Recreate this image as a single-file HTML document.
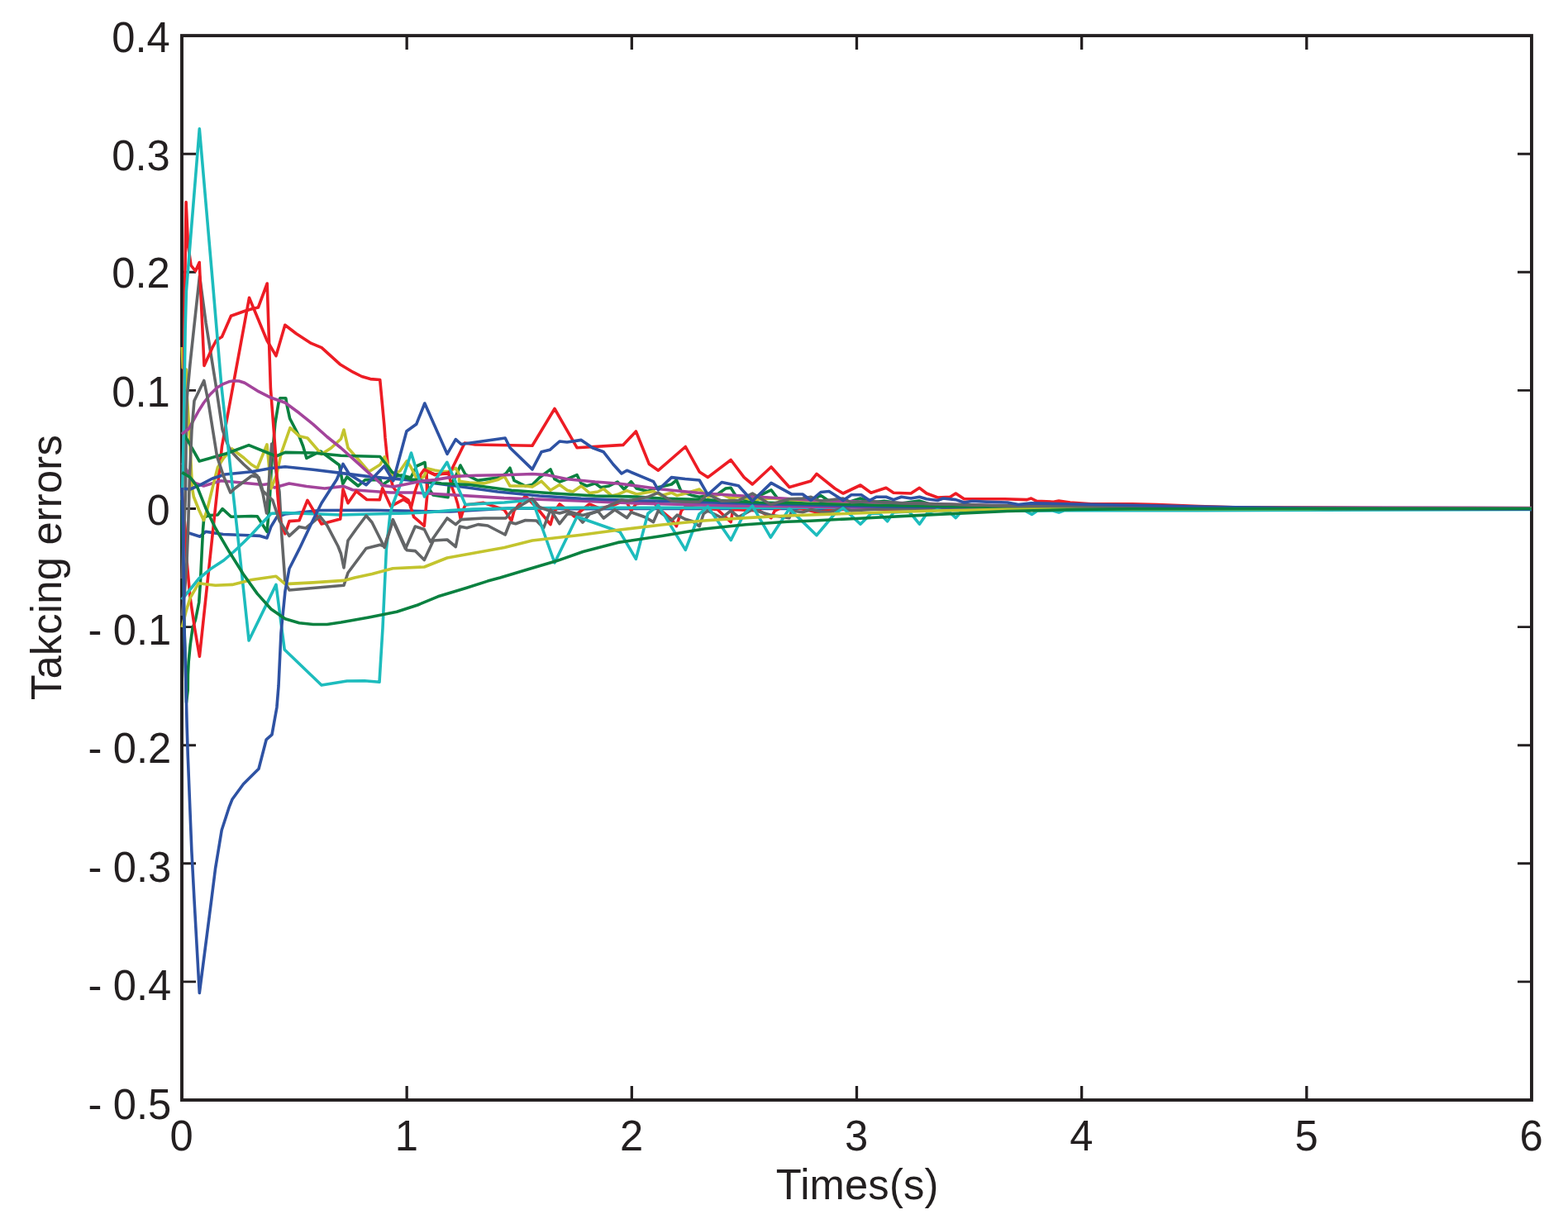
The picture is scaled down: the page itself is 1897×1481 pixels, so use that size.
<!DOCTYPE html>
<html lang="en">
<head>
<meta charset="utf-8">
<title>Tracking errors</title>
<style>
html,body{margin:0;padding:0;background:#fff;}
body{width:1897px;height:1481px;overflow:hidden;}
svg{display:block;}
text{font-family:"Liberation Sans",sans-serif;font-size:50.7px;fill:#231f20;}
.c{fill:none;stroke-width:3.6;stroke-linejoin:round;stroke-linecap:butt;}
.ax{fill:none;stroke:#231f20;stroke-width:3.9;stroke-linejoin:miter;}
.tk{fill:none;stroke:#231f20;stroke-width:2.9;}
</style>
</head>
<body>
<svg width="1897" height="1481" viewBox="0 0 1897 1481">
<rect x="0" y="0" width="1897" height="1481" fill="#ffffff"/>
<g id="axes">
<rect class="ax" x="220.00" y="43.10" width="1632.95" height="1287.90"/>
<path class="tk" style="stroke-width:3.3" d="M492.16 1331.00 V1314.00 M492.16 43.10 V60.10 M764.32 1331.00 V1314.00 M764.32 43.10 V60.10 M1036.47 1331.00 V1314.00 M1036.47 43.10 V60.10 M1308.63 1331.00 V1314.00 M1308.63 43.10 V60.10 M1580.79 1331.00 V1314.00 M1580.79 43.10 V60.10"/>
<path class="tk" d="M220.00 186.20 H237.00 M1852.95 186.20 H1835.95 M220.00 329.30 H237.00 M1852.95 329.30 H1835.95 M220.00 472.40 H237.00 M1852.95 472.40 H1835.95 M220.00 615.50 H237.00 M1852.95 615.50 H1835.95 M220.00 758.60 H237.00 M1852.95 758.60 H1835.95 M220.00 901.70 H237.00 M1852.95 901.70 H1835.95 M220.00 1044.80 H237.00 M1852.95 1044.80 H1835.95 M220.00 1187.90 H237.00 M1852.95 1187.90 H1835.95"/>
</g>
<g id="curves">
<polyline class="c" stroke="#2e52a3" points="220.2,644.0 228.6,645.0 242.0,649.2 248.8,643.3 270.0,646.5 294.4,647.5 314.6,648.4 323.0,650.9 328.0,637.0 334.9,625.6 345.0,622.0 387.0,617.5 450.0,617.3 520.0,618.9 545.0,619.0 580.0,617.0 615.0,615.0 700.0,615.6 1000.0,615.4 1853.0,616.0"/>
<polyline class="c" stroke="#0a8140" points="220.2,600.0 222.5,740.0 225.5,850.0 227.2,835.0 227.4,816.7 228.2,800.5 230.2,780.0 233.0,760.0 236.5,750.0 240.7,729.0 242.4,705.0 244.0,672.0 245.6,640.0 246.8,626.0 252.9,623.5 263.4,623.0 269.1,615.6 279.6,625.3 304.0,624.5 311.3,624.7 323.0,643.3 326.0,610.0 328.7,558.6 332.9,512.0 337.1,486.9 338.8,481.8 345.8,481.8 347.3,491.0 350.6,506.3 362.4,529.0 366.7,540.0 370.9,554.4 387.8,546.0 410.5,562.8 414.8,585.6 419.8,577.0 433.3,588.0 441.8,580.5 450.0,580.6 460.0,580.6 462.0,587.0 471.0,581.0 480.0,576.0 486.0,575.0 497.0,578.0 504.0,564.0 514.0,559.5 516.0,576.0 517.5,589.0 524.0,599.0 542.0,601.7 543.0,589.0 551.0,577.0 557.0,563.0 563.0,574.0 578.0,581.4 602.0,578.0 612.0,573.0 617.0,566.2 622.0,581.4 635.6,588.0 644.0,586.5 652.5,578.0 666.0,567.9 671.0,579.7 677.0,583.0 686.0,579.7 698.0,574.6 703.0,584.8 710.0,588.0 720.0,584.8 726.8,589.8 737.0,588.0 747.0,583.0 755.0,592.0 763.5,582.7 770.0,591.0 783.8,594.5 797.0,589.5 812.4,586.0 818.4,581.0 824.0,594.5 837.8,599.6 846.0,601.3 868.0,597.9 878.0,591.0 884.2,590.3 890.0,599.6 902.0,604.6 918.8,599.6 933.0,592.8 940.7,603.0 955.0,608.0 981.2,604.6 993.0,599.6 1003.0,606.3 1020.0,609.7 1041.0,603.0 1053.8,608.0 1069.8,606.3 1090.0,609.0 1112.0,606.0 1125.0,610.0 1150.0,610.5 1200.0,612.0 1300.0,614.0 1450.0,615.3 1853.0,615.5"/>
<polyline class="c" stroke="#ed1c24" points="220.4,596.0 224.1,640.0 226.2,680.5 229.8,721.0 235.5,760.0 241.4,794.3 268.5,540.0 301.5,360.3 311.0,383.0 323.0,412.0 334.0,430.6 344.8,393.3 358.5,403.8 376.5,415.4 389.1,420.7 400.7,431.2 411.2,440.7 427.0,450.2 437.6,455.5 448.1,458.6 459.7,459.5 464.9,515.0 466.0,530.0 469.4,563.8 475.3,589.0 482.0,597.5 493.9,605.0 495.6,609.3 500.6,625.4 513.3,636.3 516.7,600.0 516.0,570.0 526.0,574.0 542.8,573.0 546.6,589.0 551.3,601.7 553.8,610.0 557.2,627.9 561.4,614.4 563.0,611.0 585.0,608.4 610.0,616.8 618.8,630.0 622.0,618.0 635.6,600.0 650.0,615.0 666.0,634.6 670.0,620.0 677.0,610.0 686.0,617.0 694.7,625.0 703.0,618.0 713.0,610.0 725.0,615.0 740.0,612.0 750.0,608.0 758.4,608.0 763.5,618.0 769.4,609.7 790.5,607.0 796.4,614.8 812.4,628.3 818.4,636.7 824.3,618.0 829.3,613.0 868.0,616.5 884.2,631.6 886.7,616.5 918.8,618.0 933.0,626.6 937.3,618.0 955.0,609.7 966.0,614.8 988.0,619.8 1000.0,618.0 1020.0,616.5 1100.0,616.0 1853.0,615.5"/>
<polyline class="c" stroke="#1dbcbd" points="219.8,725.5 230.2,713.0 240.7,700.0 254.5,688.6 270.7,678.0 282.9,667.5 295.0,656.0 304.0,647.0 316.0,634.0 328.0,621.4 345.0,620.5 412.5,623.0 450.0,622.0 492.0,621.0 520.0,619.8 545.0,617.5 572.7,616.1 620.0,615.0 700.0,614.4 1000.0,614.3 1300.0,615.0 1853.0,615.5"/>
<polyline class="c" stroke="#a3449b" points="220.2,560.0 226.0,569.0 230.0,577.0 236.0,584.5 246.4,588.0 267.4,581.7 294.4,584.2 318.0,586.5 325.3,585.5 332.0,590.0 349.8,585.0 371.0,588.5 392.8,591.0 415.6,588.4 426.6,592.7 473.0,596.0 500.0,596.0 529.8,597.7 610.0,602.6 700.0,606.0 750.0,608.3 790.0,609.5 890.0,611.9 918.8,612.3 1069.8,614.5 1300.0,614.5 1853.0,614.8"/>
<polyline class="c" stroke="#c3c42e" points="220.3,420.0 221.2,445.0 225.3,447.0 226.3,480.0 229.0,520.0 231.0,560.0 232.6,591.0 234.3,601.0 240.7,617.0 246.4,629.5 250.5,617.0 254.5,601.0 259.4,580.8 263.4,565.4 270.7,554.0 280.5,543.0 295.0,554.0 304.0,562.0 311.3,566.5 323.0,537.8 328.0,591.0 334.9,574.0 340.0,549.0 351.0,517.6 362.0,527.7 372.0,530.0 389.0,549.6 400.7,542.0 412.5,531.0 416.0,520.0 421.0,542.0 434.5,557.0 446.3,570.7 459.8,562.3 465.2,552.8 474.5,574.7 483.8,570.0 492.2,557.8 497.0,565.0 504.0,579.0 512.5,577.0 517.5,567.0 526.0,569.0 534.4,570.5 542.8,570.5 551.3,566.3 555.5,574.0 555.5,582.3 568.0,584.0 585.0,584.9 602.0,580.6 610.3,576.3 617.0,588.0 635.6,588.0 644.0,589.0 655.0,582.2 666.0,593.2 677.0,586.5 686.3,593.2 693.0,595.0 703.2,588.0 713.3,596.6 723.4,595.0 730.2,591.5 740.3,600.0 747.0,598.3 758.4,593.7 770.3,597.9 790.5,594.5 800.6,599.6 812.4,596.2 819.2,599.6 829.3,597.0 846.2,592.0 856.3,601.3 873.2,597.9 884.2,603.0 893.5,601.3 910.3,604.6 933.0,603.0 955.0,604.6 1000.0,607.0 1100.0,610.5 1300.0,614.0 1853.0,615.5"/>
<polyline class="c" stroke="#636567" points="220.2,700.0 224.4,600.0 225.3,520.0 226.2,481.0 230.0,440.0 234.3,400.0 241.5,334.0 249.1,390.6 261.0,465.0 269.1,520.0 274.8,536.2 278.8,545.1 287.0,554.0 295.0,562.0 304.0,570.2 311.3,575.8 318.0,597.0 322.5,621.0 324.5,595.0 328.7,537.0 333.5,567.0 338.0,595.0 341.0,650.0 345.0,705.0 350.0,714.0 416.0,708.3 421.0,693.0 443.0,663.5 459.8,659.3 465.2,661.0 475.3,628.6 492.2,665.8 502.3,666.6 513.3,677.6 524.3,654.0 541.0,653.0 551.3,661.5 556.3,637.0 564.8,638.8 578.3,634.6 590.0,636.0 611.2,647.0 617.0,632.0 623.8,633.7 635.6,629.5 649.0,630.0 657.6,638.8 666.0,616.8 677.0,633.7 686.3,622.0 696.4,622.0 704.9,632.0 713.3,622.0 723.4,618.5 730.2,627.0 743.7,616.8 758.4,626.6 763.5,619.8 780.4,625.7 790.5,631.6 796.4,618.0 812.4,630.0 819.2,623.2 829.3,628.3 837.8,630.8 846.2,636.7 851.3,621.5 856.3,618.0 873.2,626.6 884.2,618.0 893.5,625.7 910.3,616.5 932.3,623.2 955.0,626.6 957.6,618.0 971.0,619.8 981.2,616.5 993.0,619.0 1003.0,619.8 1020.0,614.8 1030.0,618.0 1053.8,616.5 1069.8,615.6 1200.0,615.5 1853.0,615.5"/>
<polyline class="c" stroke="#2e52a3" points="220.2,591.0 230.0,592.0 242.0,586.8 257.0,579.0 272.4,574.0 304.5,570.7 328.0,566.5 345.0,564.8 378.8,568.2 412.5,572.4 446.3,576.6 473.3,579.0 500.6,581.4 551.3,588.0 602.0,595.0 652.5,600.0 703.0,603.3 769.8,605.8 790.0,606.0 850.0,607.6 890.0,608.6 950.0,610.5 1069.8,613.0 1300.0,614.8 1853.0,616.3"/>
<polyline class="c" stroke="#0a8140" points="220.2,522.0 226.9,532.7 241.2,558.0 274.0,548.8 301.0,538.6 334.0,552.0 345.0,547.4 378.8,548.0 412.5,551.3 459.8,552.5 474.5,571.4 483.8,575.6 497.0,580.0 509.0,581.0 534.0,585.0 568.0,586.5 618.8,593.2 670.0,597.0 720.0,600.0 769.8,601.0 800.0,603.0 850.0,604.6 918.0,608.0 1069.8,611.4 1200.0,613.5 1400.0,615.0 1853.0,615.5"/>
<polyline class="c" stroke="#ed1c24" points="220.4,605.0 222.3,520.0 222.9,400.0 225.1,244.5 227.5,296.0 231.0,321.0 236.5,328.0 241.2,317.5 247.0,442.5 257.0,420.5 261.8,411.7 268.5,407.5 279.5,382.2 296.4,376.3 304.8,373.8 312.4,372.0 323.2,343.0 327.4,470.0 330.6,512.0 333.8,554.4 335.6,595.0 338.5,628.0 345.0,645.8 350.0,630.6 362.0,629.8 372.0,605.3 389.0,634.0 411.7,628.0 415.0,591.8 421.0,608.7 431.0,594.3 443.8,604.5 459.3,604.7 462.7,590.8 472.8,612.7 488.0,604.3 495.6,609.3 497.3,614.4 502.3,594.0 509.0,574.0 513.3,568.0 526.0,574.7 542.8,572.0 547.0,567.0 562.2,536.0 575.0,538.0 644.0,539.2 671.0,494.5 698.0,541.7 753.8,538.4 769.4,522.0 785.4,561.6 796.4,569.2 829.3,540.5 846.2,570.9 856.3,577.6 884.2,556.5 900.2,577.6 910.3,586.0 933.0,565.0 955.0,589.5 981.2,581.9 988.0,573.4 1010.0,591.0 1020.0,597.0 1041.0,587.0 1053.8,596.2 1072.0,590.3 1081.0,596.2 1102.0,597.0 1112.4,590.3 1121.0,597.0 1134.4,602.0 1149.6,601.3 1156.3,597.0 1166.5,603.8 1215.4,603.8 1242.4,604.6 1247.5,603.0 1254.2,606.3 1274.5,607.2 1281.0,606.0 1294.7,608.0 1320.0,609.7 1369.8,609.7 1400.0,610.5 1450.0,612.5 1500.0,614.0 1853.0,615.5"/>
<polyline class="c" stroke="#1dbcbd" points="220.4,605.0 222.3,520.0 224.1,400.0 225.4,352.0 241.3,155.8 257.6,345.0 267.7,465.0 287.6,647.5 301.1,775.0 334.0,707.4 344.2,786.0 389.0,829.0 419.8,824.0 441.0,823.8 459.0,825.3 463.0,760.0 467.4,664.4 472.0,622.0 475.3,610.0 486.8,580.0 497.5,548.0 513.5,601.0 540.8,559.3 563.0,610.5 610.0,608.0 644.0,605.0 671.0,681.0 698.0,625.3 750.0,643.5 769.4,676.4 783.8,621.5 796.4,611.4 829.3,665.4 846.0,622.0 856.3,613.0 884.2,653.6 900.0,622.0 910.3,612.2 932.3,650.2 955.0,615.6 988.0,647.7 1010.0,621.5 1020.0,614.8 1041.0,634.2 1053.8,621.5 1064.0,621.0 1073.6,630.8 1081.0,620.0 1100.0,619.0 1112.4,634.2 1122.0,620.5 1134.0,617.0 1148.0,619.0 1156.3,626.6 1164.0,618.0 1200.0,617.5 1240.0,618.0 1248.3,622.4 1255.0,618.0 1274.0,618.0 1281.0,620.0 1288.0,617.5 1370.0,617.7 1450.0,617.7 1600.0,617.3 1853.0,616.5"/>
<polyline class="c" stroke="#a3449b" points="219.8,525.3 228.6,518.5 240.4,497.0 246.4,487.5 254.0,477.5 262.6,469.0 270.7,464.3 277.0,461.8 283.0,460.8 289.0,461.0 296.0,463.3 304.0,468.2 311.3,472.8 328.0,481.3 345.0,487.2 362.0,499.8 378.8,513.3 395.7,528.5 412.5,542.0 429.4,557.2 446.3,572.4 455.0,580.0 463.5,587.4 475.3,589.0 492.0,585.8 509.0,582.3 526.0,580.6 551.0,576.4 576.6,575.2 610.0,574.7 644.0,573.5 661.0,574.6 686.3,579.7 720.0,583.0 750.0,585.2 800.6,592.0 851.3,597.0 918.8,601.3 986.3,605.5 1069.8,608.0 1200.0,611.5 1400.0,613.8 1853.0,614.5"/>
<polyline class="c" stroke="#c3c42e" points="220.2,759.0 225.0,740.0 230.0,723.5 240.4,705.7 260.6,708.3 281.0,707.4 304.5,701.5 334.0,697.3 345.0,706.6 378.8,704.9 416.0,702.4 429.0,699.0 450.0,694.5 475.3,687.7 513.3,686.0 541.0,675.0 610.3,662.4 644.0,654.0 703.0,647.2 750.0,641.0 800.6,635.0 851.3,630.0 902.0,626.6 952.5,624.0 1069.8,619.8 1134.0,618.0 1218.8,616.3 1300.0,616.0 1853.0,615.5"/>
<polyline class="c" stroke="#636567" points="220.2,745.0 223.5,715.0 226.0,680.0 227.6,640.0 229.4,577.0 232.0,520.0 235.0,485.0 246.8,460.5 252.0,486.0 257.4,520.0 262.6,552.4 270.7,576.7 278.8,596.0 284.0,591.0 304.5,575.8 313.0,577.5 318.0,594.0 329.8,605.3 338.3,630.6 350.0,648.4 362.0,637.4 370.0,639.0 387.0,624.7 395.7,635.7 409.0,661.0 412.5,670.0 416.0,687.0 418.5,670.0 421.0,654.0 431.0,640.0 443.0,624.0 450.0,632.0 460.0,652.0 465.2,662.4 475.3,630.3 490.5,664.0 502.3,637.0 513.3,640.5 520.9,655.7 541.0,627.0 551.3,634.6 558.0,628.6 585.0,627.0 612.0,627.0 618.8,618.5 644.0,603.3 652.5,613.5 666.0,618.5 677.0,621.0 686.0,618.5 704.9,623.6 723.4,618.5 737.0,611.8 752.0,605.0 758.4,606.3 783.8,601.3 796.4,596.2 812.4,606.3 829.3,607.2 846.2,607.2 856.3,597.9 873.2,606.3 893.5,605.5 910.3,597.0 932.3,610.5 955.0,603.8 971.0,603.0 981.2,601.3 993.0,606.3 1020.0,603.0 1030.0,608.0 1053.8,606.3 1069.8,608.0 1100.0,609.0 1200.0,611.5 1290.0,612.5 1400.0,614.0 1853.0,615.5"/>
<polyline class="c" stroke="#2e52a3" points="220.2,590.0 221.7,640.0 222.9,760.0 224.5,808.0 226.2,880.0 227.3,915.0 231.9,1030.0 234.9,1087.0 241.3,1201.5 256.0,1087.3 260.6,1050.6 264.0,1030.0 268.2,1004.5 277.5,975.8 280.9,967.3 294.4,948.8 313.0,930.2 322.2,894.8 329.0,888.9 334.9,856.0 337.0,830.0 340.0,765.7 345.0,715.0 350.0,688.0 362.0,664.4 378.8,629.0 389.0,608.7 407.5,580.0 415.0,561.4 422.7,574.0 443.0,586.7 464.9,564.0 475.8,581.7 491.9,521.8 503.7,513.3 513.8,488.0 541.0,549.3 551.3,531.6 558.0,537.5 611.2,530.0 617.0,541.7 644.0,567.9 655.0,546.8 665.2,544.3 677.0,534.0 686.0,535.0 703.2,532.4 716.7,541.7 730.2,546.8 742.0,562.0 752.0,573.0 758.4,569.2 790.5,582.7 796.4,592.8 812.4,577.6 829.0,579.5 846.2,581.0 856.3,598.7 873.2,583.5 893.5,587.8 910.3,606.3 933.0,584.4 957.6,597.9 971.0,598.0 981.2,605.5 993.0,595.5 1003.0,594.5 1020.0,605.5 1030.0,598.7 1042.0,598.7 1052.0,605.5 1060.0,601.3 1072.0,601.3 1081.0,604.6 1090.5,601.3 1102.0,603.0 1112.4,601.3 1121.0,603.8 1134.4,605.5 1141.0,603.0 1156.3,604.6 1166.5,608.0 1176.6,606.3 1193.5,607.2 1218.8,608.0 1232.0,610.5 1247.5,608.9 1286.0,609.7 1370.0,611.4 1450.0,613.0 1600.0,615.5 1853.0,616.3"/>
<polyline class="c" stroke="#0a8140" points="220.2,571.6 230.0,577.5 238.7,589.3 248.8,614.6 260.6,639.0 277.5,667.8 294.4,694.8 311.3,718.4 328.0,737.0 345.0,748.8 362.0,753.8 378.8,755.5 395.7,755.5 412.5,753.0 446.3,747.0 480.0,740.3 505.4,732.0 529.8,721.8 563.0,711.7 590.0,703.1 605.0,699.0 640.0,688.5 673.8,678.6 705.4,667.5 747.6,656.4 800.6,648.5 851.3,640.0 902.0,634.8 952.5,631.3 980.0,630.2 1030.0,627.7 1134.4,622.4 1218.8,618.5 1303.0,616.5 1369.8,615.8 1500.0,615.5 1853.0,615.5"/>
</g>
<g id="labels">
<text transform="translate(205.80 62.70) scale(1 1.028)" text-anchor="end">0.4</text>
<text transform="translate(205.80 205.70) scale(1 1.028)" text-anchor="end">0.3</text>
<text transform="translate(205.80 348.30) scale(1 1.028)" text-anchor="end">0.2</text>
<text transform="translate(205.80 491.70) scale(1 1.028)" text-anchor="end">0.1</text>
<text transform="translate(205.80 634.70) scale(1 1.028)" text-anchor="end">0</text>
<text transform="translate(207.20 780.20) scale(1 1.028)" text-anchor="end">-<tspan dx="-0.85"> 0.1</tspan></text>
<text transform="translate(207.20 923.30) scale(1 1.028)" text-anchor="end">-<tspan dx="-0.85"> 0.2</tspan></text>
<text transform="translate(207.20 1066.50) scale(1 1.028)" text-anchor="end">-<tspan dx="-0.85"> 0.3</tspan></text>
<text transform="translate(207.20 1209.80) scale(1 1.028)" text-anchor="end">-<tspan dx="-0.85"> 0.4</tspan></text>
<text transform="translate(207.20 1353.70) scale(1 1.028)" text-anchor="end">-<tspan dx="-0.85"> 0.5</tspan></text>
<text transform="translate(219.70 1392.40) scale(1 1.028)" text-anchor="middle">0</text>
<text transform="translate(491.86 1392.40) scale(1 1.028)" text-anchor="middle">1</text>
<text transform="translate(764.02 1392.40) scale(1 1.028)" text-anchor="middle">2</text>
<text transform="translate(1036.17 1392.40) scale(1 1.028)" text-anchor="middle">3</text>
<text transform="translate(1308.33 1392.40) scale(1 1.028)" text-anchor="middle">4</text>
<text transform="translate(1580.49 1392.40) scale(1 1.028)" text-anchor="middle">5</text>
<text transform="translate(1852.65 1392.40) scale(1 1.028)" text-anchor="middle">6</text>
<text letter-spacing="0.18" transform="translate(1037.20 1450.60) scale(1 1.028)" text-anchor="middle">Times(s)</text>
<text letter-spacing="0.2" transform="translate(73.90 686.60) rotate(-90) scale(1 1.028)" text-anchor="middle">Takcing errors</text>
</g>
</svg>
</body>
</html>
